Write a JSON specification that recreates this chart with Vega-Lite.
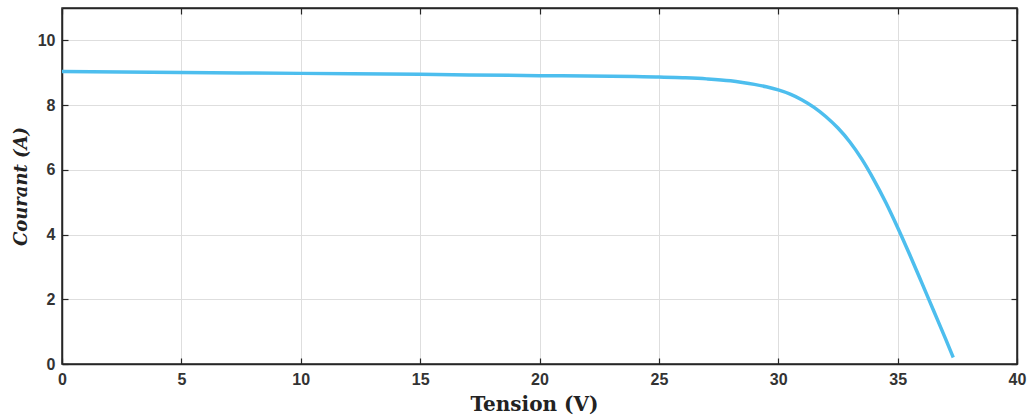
{
  "$schema": "https://vega.github.io/schema/vega-lite/v6.json",
  "autosize": "none",
  "width": 955,
  "height": 356,
  "padding": {"left": 62, "top": 8, "right": 12, "bottom": 55},
  "background": "white",
  "config": {
    "view": {"stroke": "#262626", "strokeWidth": 1.5},
    "axis": {
      "labelFont": "Liberation Sans",
      "labelFontWeight": "bold",
      "labelFontSize": 16,
      "labelColor": "#333333",
      "labelFlush": false,
      "titleFont": "DejaVu Serif",
      "titleFontWeight": "bold",
      "titleFontSize": 19,
      "titleColor": "#222222",
      "gridColor": "#dedede",
      "gridWidth": 1,
      "domainColor": "#262626",
      "domainWidth": 1.5,
      "tickColor": "#262626",
      "tickWidth": 1.2,
      "tickSize": -6
    }
  },
  "data": {
    "values": [
      {"V": 0, "I": 9.04},
      {"V": 5, "I": 9.01},
      {"V": 10, "I": 8.98},
      {"V": 15, "I": 8.95},
      {"V": 20, "I": 8.91},
      {"V": 22, "I": 8.9},
      {"V": 24, "I": 8.88},
      {"V": 25, "I": 8.87},
      {"V": 26, "I": 8.845},
      {"V": 27, "I": 8.81},
      {"V": 28, "I": 8.75},
      {"V": 28.5, "I": 8.70},
      {"V": 29, "I": 8.64},
      {"V": 29.5, "I": 8.565},
      {"V": 30, "I": 8.47},
      {"V": 30.5, "I": 8.34},
      {"V": 31, "I": 8.16},
      {"V": 31.5, "I": 7.93},
      {"V": 32, "I": 7.64},
      {"V": 32.5, "I": 7.29},
      {"V": 33, "I": 6.86},
      {"V": 33.5, "I": 6.33},
      {"V": 34, "I": 5.70},
      {"V": 34.5, "I": 5.00},
      {"V": 35, "I": 4.22},
      {"V": 35.5, "I": 3.39},
      {"V": 36, "I": 2.53},
      {"V": 36.5, "I": 1.66},
      {"V": 37, "I": 0.79},
      {"V": 37.33, "I": 0.2}
    ]
  },
  "layer": [
    {
      "mark": {"type": "line", "color": "#4DBEEE", "strokeWidth": 3.5, "interpolate": "monotone"},
      "encoding": {
        "x": {
          "field": "V", "type": "quantitative",
          "scale": {"domain": [0, 40], "nice": false, "zero": false},
          "axis": {"title": "Tension (V)", "titleFontSize": 20, "titleX": 472, "titleAlign": "center", "values": [0, 5, 10, 15, 20, 25, 30, 35, 40], "labelPadding": 13, "titlePadding": 7, "orient": "bottom"}
        },
        "y": {
          "field": "I", "type": "quantitative",
          "scale": {"domain": [0, 11], "nice": false},
          "axis": {"title": "Courant (A)", "titleFontStyle": "italic", "titleFontSize": 18, "values": [0, 2, 4, 6, 8, 10], "labelPadding": 13, "titlePadding": 7, "orient": "left"}
        }
      }
    },
    {
      "mark": {"type": "line", "opacity": 0},
      "encoding": {
        "x": {
          "field": "V", "type": "quantitative",
          "scale": {"domain": [0, 40], "nice": false, "zero": false},
          "axis": {"orient": "top", "title": null, "labels": false, "grid": false, "values": [0, 5, 10, 15, 20, 25, 30, 35, 40]}
        },
        "y": {
          "field": "I", "type": "quantitative",
          "scale": {"domain": [0, 11], "nice": false},
          "axis": {"orient": "right", "title": null, "labels": false, "grid": false, "values": [0, 2, 4, 6, 8, 10]}
        }
      }
    }
  ],
  "resolve": {"axis": {"x": "independent", "y": "independent"}}
}
